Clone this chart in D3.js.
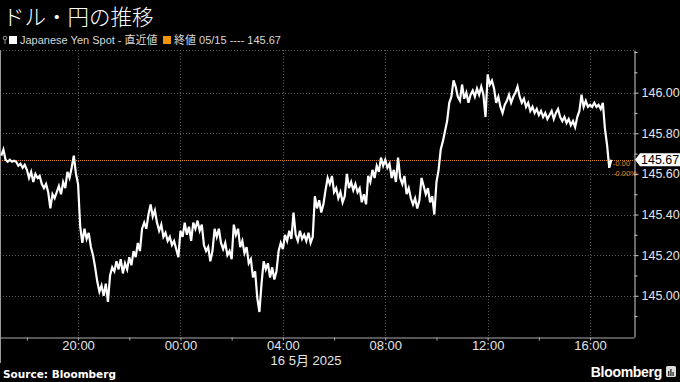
<!DOCTYPE html>
<html><head><meta charset="utf-8">
<script src="https://cdn.jsdelivr.net/npm/d3@7"></script>
<style>html,body{margin:0;padding:0;background:#000;}svg{display:block;}</style>
</head><body>
<svg id="c" width="680" height="382"></svg>
<script>
const title = "ドル・円の推移";
const seriesName = "Japanese Yen Spot - 直近値";
const lastLabel = "終値 05/15 ---- 145.67";
const startTime = Date.UTC(2025, 4, 15, 17, 0);
const stepMinutes = 5;
const values = [
145.69,145.72,145.67,145.66,145.67,145.66,145.665,145.66,145.64,145.65,
145.63,145.645,145.62,145.58,145.61,145.56,145.60,145.58,145.59,145.55,
145.53,145.55,145.51,145.43,145.50,145.48,145.51,145.54,145.50,145.56,
145.53,145.61,145.58,145.63,145.69,145.60,145.55,145.34,145.26,145.33,
145.28,145.31,145.24,145.20,145.14,145.07,145.02,145.05,145.00,145.06,
144.97,145.10,145.14,145.12,145.17,145.13,145.18,145.11,145.16,145.13,
145.19,145.15,145.22,145.19,145.26,145.22,145.33,145.36,145.33,145.40,
145.45,145.39,145.42,145.36,145.32,145.35,145.29,145.31,145.27,145.29,
145.25,145.27,145.23,145.19,145.32,145.29,145.36,145.30,145.34,145.27,
145.36,145.33,145.37,145.32,145.35,145.25,145.22,145.24,145.17,145.22,
145.33,145.29,145.33,145.26,145.23,145.26,145.20,145.22,145.18,145.35,
145.30,145.33,145.24,145.27,145.21,145.24,145.16,145.18,145.09,145.12,
144.99,144.92,145.06,145.17,145.13,145.16,145.09,145.14,145.08,145.12,
145.22,145.26,145.23,145.30,145.27,145.32,145.28,145.41,145.30,145.27,
145.32,145.28,145.30,145.27,145.31,145.26,145.29,145.49,145.43,145.47,
145.41,145.45,145.52,145.58,145.55,145.59,145.51,145.53,145.48,145.51,
145.46,145.49,145.60,145.53,145.56,145.52,145.55,145.51,145.53,145.46,
145.50,145.45,145.59,145.56,145.62,145.58,145.64,145.61,145.68,145.64,
145.67,145.63,145.65,145.58,145.62,145.56,145.68,145.58,145.55,145.59,
145.50,145.53,145.48,145.45,145.48,145.43,145.47,145.58,145.54,145.50,
145.53,145.46,145.49,145.40,145.56,145.62,145.72,145.76,145.81,145.86,
145.95,145.98,146.06,146.03,145.98,145.96,146.04,145.97,146.00,145.95,
145.99,146.01,145.98,146.02,145.99,146.03,145.99,145.88,146.09,146.04,
146.06,146.02,145.95,145.98,145.93,145.90,145.94,145.96,145.99,145.95,
145.98,146.00,146.03,145.98,145.95,145.97,145.93,145.95,145.91,145.93,
145.90,145.92,145.89,145.91,145.88,145.90,145.87,145.89,145.91,145.87,
145.90,145.92,145.88,145.86,145.88,145.85,145.87,145.84,145.86,145.83,
145.88,145.91,145.99,145.93,145.96,145.93,145.94,145.93,145.95,145.93,
145.94,145.92,145.95,145.82,145.74,145.63,145.67
];
const lastValue = 145.67;
const yTicks = [145.0, 145.2, 145.4, 145.6, 145.8, 146.0];
const yMinorTicks = [144.9, 145.1, 145.3, 145.5, 145.7, 145.9, 146.1, 146.2];
const xTicks = [Date.UTC(2025,4,15,20), Date.UTC(2025,4,16,0), Date.UTC(2025,4,16,4),
                Date.UTC(2025,4,16,8), Date.UTC(2025,4,16,12), Date.UTC(2025,4,16,16)];
const xMinorTicks = [Date.UTC(2025,4,15,18), Date.UTC(2025,4,15,22), Date.UTC(2025,4,16,2),
                Date.UTC(2025,4,16,6), Date.UTC(2025,4,16,10), Date.UTC(2025,4,16,14)];
const dateLabel = "16 5月 2025";
const changeLabels = ["-0.00", "-0.00%"];

const data = values.map((v, i) => ({t: new Date(startTime + i * stepMinutes * 60000), v}));

const svg = d3.select("#c");
const L = 0, R = 634, T = 50, B = 337;
const x = d3.scaleUtc().domain([Date.UTC(2025,4,15,16,57), Date.UTC(2025,4,16,17,43)]).range([L, R]);
const y = d3.scaleLinear().domain([144.797, 146.21]).range([B, T]);

const FONT = "'Liberation Sans', 'Noto Sans CJK JP', sans-serif";

// title
svg.append("text").attr("x", 3).attr("y", 25).text(title)
  .attr("fill", "#fff").attr("font-size", 21.5).attr("font-weight", 300)
  .attr("font-family", "'Noto Sans CJK JP', sans-serif");

// legend
const lg = svg.append("g").attr("font-family", FONT).attr("font-size", 11).attr("fill", "#d8d8d8");
lg.append("circle").attr("cx", 5).attr("cy", 38).attr("r", 1.8).attr("fill", "none").attr("stroke", "#999").attr("stroke-width", 1);
lg.append("line").attr("x1", 5).attr("x2", 5).attr("y1", 40).attr("y2", 44).attr("stroke", "#999");
lg.append("rect").attr("x", 9).attr("y", 36).attr("width", 8).attr("height", 8).attr("fill", "#fff");
lg.append("text").attr("x", 20).attr("y", 44).text(seriesName);
lg.append("rect").attr("x", 163).attr("y", 36).attr("width", 8).attr("height", 8).attr("fill", "#f0940a");
lg.append("text").attr("x", 174).attr("y", 44).text(lastLabel);

// grid
const grid = svg.append("g").attr("stroke", "#5a5a5a").attr("stroke-dasharray", "1,2").attr("stroke-width", 1);
grid.selectAll("line.h").data(yTicks).join("line")
  .attr("x1", L).attr("x2", R).attr("y1", d => Math.round(y(d)) + 0.5).attr("y2", d => Math.round(y(d)) + 0.5);
grid.append("line").attr("x1", L).attr("x2", R).attr("y1", T + 0.5).attr("y2", T + 0.5);
grid.selectAll("line.v").data(xTicks).join("line")
  .attr("x1", d => Math.round(x(d)) + 0.5).attr("x2", d => Math.round(x(d)) + 0.5).attr("y1", T).attr("y2", B);

// left border
svg.append("line").attr("x1", 0.5).attr("x2", 0.5).attr("y1", T).attr("y2", 363).attr("stroke", "#999");

// last-value line
svg.append("line").attr("x1", L).attr("x2", R)
  .attr("y1", Math.round(y(lastValue)) + 0.5).attr("y2", Math.round(y(lastValue)) + 0.5)
  .attr("stroke", "#e0862a").attr("stroke-dasharray", "1,1").attr("stroke-width", 1);

// series line
svg.append("path").datum(data)
  .attr("d", d3.line().x(d => x(d.t)).y(d => y(d.v)))
  .attr("fill", "none").attr("stroke", "#fff").attr("stroke-width", 2.2).attr("stroke-linejoin", "miter");

// change labels
svg.append("g").attr("font-family", FONT).attr("font-size", 7.5).attr("fill", "#e0862a")
  .selectAll("text").data(changeLabels).join("text")
  .attr("x", 613).attr("y", (d, i) => 166 + i * 10).text(d => d);

// y axis
const yAxis = svg.append("g").attr("transform", `translate(${R + 0.5},0)`)
  .call(d3.axisRight(y).tickValues(yTicks).tickSize(4).tickSizeOuter(0).tickFormat(d3.format(".2f")));
yAxis.select(".domain").attr("stroke", "#ccc");
yAxis.selectAll(".tick line").attr("stroke", "#ccc");
yAxis.selectAll(".tick text").attr("fill", "#e4e4e4").attr("font-size", 12.5).attr("font-family", FONT).attr("x", 7);
const yMinor = svg.append("g").attr("transform", `translate(${R + 0.5},0)`)
  .call(d3.axisRight(y).tickValues(yMinorTicks).tickSize(3).tickFormat(""));
yMinor.select(".domain").remove();
yMinor.selectAll(".tick line").attr("stroke", "#ccc");

// last-value tag
const ly = y(lastValue);
svg.append("path")
  .attr("d", `M${R + 1},${ly} L${R + 6},${ly - 6.5} L680,${ly - 6.5} L680,${ly + 6.5} L${R + 6},${ly + 6.5} Z`)
  .attr("fill", "#fff");
svg.append("text").attr("x", 641).attr("y", ly).attr("dy", "0.35em").text(d3.format(".2f")(lastValue))
  .attr("fill", "#000").attr("font-size", 12.5).attr("font-family", FONT);

// x axis
const xAxis = svg.append("g").attr("transform", `translate(0,${B + 0.5})`)
  .call(d3.axisBottom(x).tickValues(xTicks).tickSize(3).tickSizeOuter(0).tickFormat(d3.utcFormat("%H:%M")));
xAxis.select(".domain").attr("stroke", "#aaa");
xAxis.selectAll(".tick line").attr("stroke", "#aaa");
xAxis.selectAll(".tick text").attr("fill", "#e4e4e4").attr("font-size", 13).attr("font-family", FONT).attr("y", 3.5);
const xMinor = svg.append("g").attr("transform", `translate(0,${B + 0.5})`)
  .call(d3.axisBottom(x).tickValues(xMinorTicks).tickSize(3).tickFormat(""));
xMinor.select(".domain").remove();
xMinor.selectAll(".tick line").attr("stroke", "#aaa");

svg.append("text").attr("x", 306).attr("y", 365).attr("text-anchor", "middle").text(dateLabel)
  .attr("fill", "#e4e4e4").attr("font-size", 13).attr("font-family", FONT);

// footer
svg.append("text").attr("x", 3).attr("y", 378).text("Source: Bloomberg")
  .attr("fill", "#fff").attr("font-size", 10.5).attr("font-weight", "bold").attr("font-family", "'DejaVu Sans', sans-serif");
svg.append("text").attr("x", 662).attr("y", 377).attr("text-anchor", "end").text("Bloomberg")
  .attr("fill", "#fff").attr("font-size", 14).attr("font-weight", "bold").attr("font-family", "'Liberation Sans', sans-serif")
  .attr("letter-spacing", -0.3);
const ic = svg.append("g").attr("transform", "translate(666,366)");
ic.append("rect").attr("width", 10).attr("height", 11).attr("rx", 1.5).attr("fill", "#ddd");
[[2, 5, 5], [4.2, 3, 7], [6.4, 6, 4]].forEach(([bx, by, bh]) =>
  ic.append("rect").attr("x", bx).attr("y", by).attr("width", 1.4).attr("height", bh).attr("fill", "#333"));
</script>
</body></html>
